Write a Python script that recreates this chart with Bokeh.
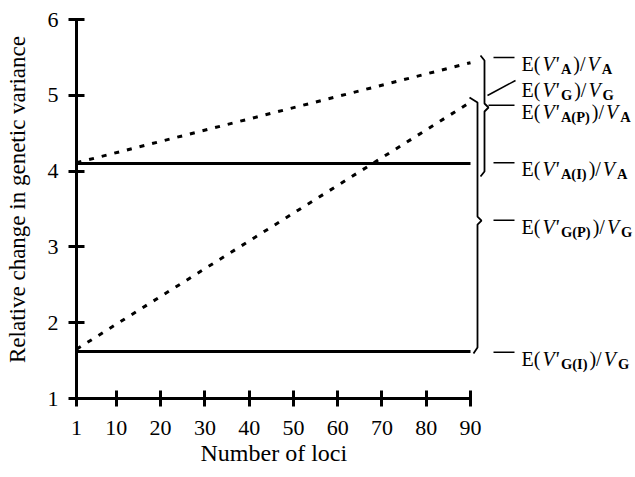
from bokeh.plotting import figure
from bokeh.models import Range1d, FixedTicker, ColumnDataSource, Title
from bokeh.core.properties import value, field
from bokeh.embed import file_html
from bokeh.resources import INLINE

# ---- data ----
loci = [1, 90]
ratio_A_total = [4.11, 5.43]   # E(V'_A)/V_A  (dotted)
ratio_A_I = [4.10, 4.10]       # E(V'_A(I))/V_A (solid)
ratio_G_total = [1.65, 4.91]   # E(V'_G)/V_G  (dotted)
ratio_G_I = [1.62, 1.62]       # E(V'_G(I))/V_G (solid)
x_ticks = [1, 10, 20, 30, 40, 50, 60, 70, 80, 90]
y_ticks = [1, 2, 3, 4, 5, 6]
label_subs = [("A", "A"), ("G", "G"), ("A(P)", "A"), ("A(I)", "A"), ("G(P)", "G"), ("G(I)", "G")]

FONT = "Liberation Serif"

# ---- layout constants ----
W, H = 634, 476
LEFT, BOTTOM = 76, 78
PX_X = 394 / 89.0      # pixels per locus
PX_Y = 75.8            # pixels per unit
x_end = 1 + (W - LEFT) / PX_X
y_end = 1 + (H - BOTTOM) / PX_Y

p = figure(width=W, height=H, output_backend="svg", toolbar_location=None,
           x_range=Range1d(1, x_end), y_range=Range1d(1, y_end),
           min_border_left=LEFT, min_border_right=0, min_border_top=0,
           min_border_bottom=BOTTOM)
p.outline_line_color = None
p.xgrid.visible = False
p.ygrid.visible = False
p.background_fill_color = "white"
p.border_fill_color = "white"

# ---- lines ----
p.line(loci, ratio_A_I, line_color="black", line_width=3)
p.line(loci, ratio_G_I, line_color="black", line_width=3)
p.line(loci, ratio_A_total, line_color="black", line_width=3, line_dash="5 8")
p.line(loci, ratio_G_total, line_color="black", line_width=3, line_dash="5 8")

# ---- axes ----
for ax, ticks, b in ((p.xaxis[0], x_ticks, (1, 90)), (p.yaxis[0], y_ticks, (1, 6))):
    ax.ticker = FixedTicker(ticks=ticks)
    ax.bounds = b
    ax.axis_line_width = 3
    ax.major_tick_line_width = 3
    ax.major_tick_in = 8
    ax.major_tick_out = 8
    ax.minor_tick_line_color = None
    ax.major_label_text_font = FONT
    ax.major_label_text_font_size = "22px"
    ax.major_label_text_color = "black"
    ax.axis_line_color = "black"
    ax.major_tick_line_color = "black"
p.xaxis.major_label_standoff = 14
p.yaxis.major_label_standoff = 10

p.yaxis.axis_label = "Relative change in genetic variance"
p.yaxis.axis_label_text_font = FONT
p.yaxis.axis_label_text_font_size = "23px"
p.yaxis.axis_label_text_font_style = "normal"
p.yaxis.axis_label_text_color = "black"
p.yaxis.axis_label_standoff = 15

xt = Title(text="Number of loci", align="left", offset=200 - LEFT, text_font=FONT,
           text_font_size="24px", text_font_style="normal", text_color="black",
           standoff=0)
p.add_layout(xt, "below")

# ---- helpers (pixel offsets -> data) ----
def dx(px):
    return px / PX_X

def dy(px):
    return px / PX_Y

def img_x(px):
    return 1 + (px - LEFT) / PX_X

def img_y(py):
    return 1 + (H - BOTTOM - py) / PX_Y

# braces
def brace(x, y_top, y_bot, y_mid, hook_top, hook_bot, notch=4):
    xs = [x - dx(hook_top[0]), x, x, x + dx(notch), x, x, x - dx(hook_bot[0])]
    ys = [y_top + dy(hook_top[1]), y_top, y_mid + dy(4), y_mid, y_mid - dy(4),
          y_bot, y_bot - dy(hook_bot[1])]
    p.line(xs, ys, line_color="black", line_width=1.8)

xA = img_x(484)
xG = img_x(477)
brace(xA, 5.459, 3.995, 4.839, (4, 5), (4, 5))
brace(xG, 4.905, 1.673, 3.348, (8, 5), (4, 6))

# label positions (centre of the text line, in data y)
label_y = [5.50, 5.16, 4.87, ratio_A_I[-1] + 0.01, 3.35, ratio_G_I[-1] - 0.01]
x_text = img_x(521)
dash_x0 = img_x(493)
dash_x1 = img_x(514)

# leader dashes
seg_x0, seg_x1, seg_y0, seg_y1 = [], [], [], []
for i, yv in enumerate(label_y):
    if i == 1:
        seg_x0.append(img_x(487)); seg_y0.append(img_y(95))
        seg_x1.append(img_x(515)); seg_y1.append(img_y(80))
    elif i == 2:
        seg_x0.append(xA + dx(4)); seg_y0.append(yv)
        seg_x1.append(dash_x1); seg_y1.append(yv)
    else:
        seg_x0.append(dash_x0); seg_y0.append(yv)
        seg_x1.append(dash_x1); seg_y1.append(yv)
p.segment(seg_x0, seg_y0, seg_x1, seg_y1, line_color="black", line_width=1.5)

# label texts, built from pieces
MAIN, SUB = 20, 14.5
WREG = {"E": 0.611, "(": 0.333, ")": 0.333, "/": 0.278}
WIT = {"V": 0.611, "'": 0.214}
WBOLD = {"A": 0.722, "G": 0.778, "P": 0.611, "I": 0.389, "(": 0.333, ")": 0.333}
GAP = 2.0

def width(s, table, size):
    return sum(table[c] for c in s) * size

cols = dict(x=[], y=[], text=[], style=[], size=[], xoff=[], yoff=[])
for (s1, s2), yv in zip(label_subs, label_y):
    pieces = [("E(", "normal", MAIN, WREG, 0), ("V'", "italic", MAIN, WIT, 0),
              (s1, "bold", SUB, WBOLD, 5), (")/", "normal", MAIN, WREG, 0),
              ("V", "italic", MAIN, WIT, 0), (s2, "bold", SUB, WBOLD, 5)]
    off = 0.0
    for txt, st, sz, tbl, sh in pieces:
        cols["x"].append(x_text); cols["y"].append(yv)
        cols["text"].append(txt); cols["style"].append(st)
        cols["size"].append(f"{sz}px")
        cols["xoff"].append(off); cols["yoff"].append(6.5 + sh)
        off += width(txt, tbl, sz) + GAP

src = ColumnDataSource(cols)
p.text(x="x", y="y", text="text", x_offset="xoff", y_offset="yoff", source=src,
       text_font=value(FONT), text_font_size=field("size"),
       text_font_style=field("style"), text_baseline="alphabetic",
       text_align="left", text_color="black")

open("out.html", "w").write(file_html(p, INLINE))
